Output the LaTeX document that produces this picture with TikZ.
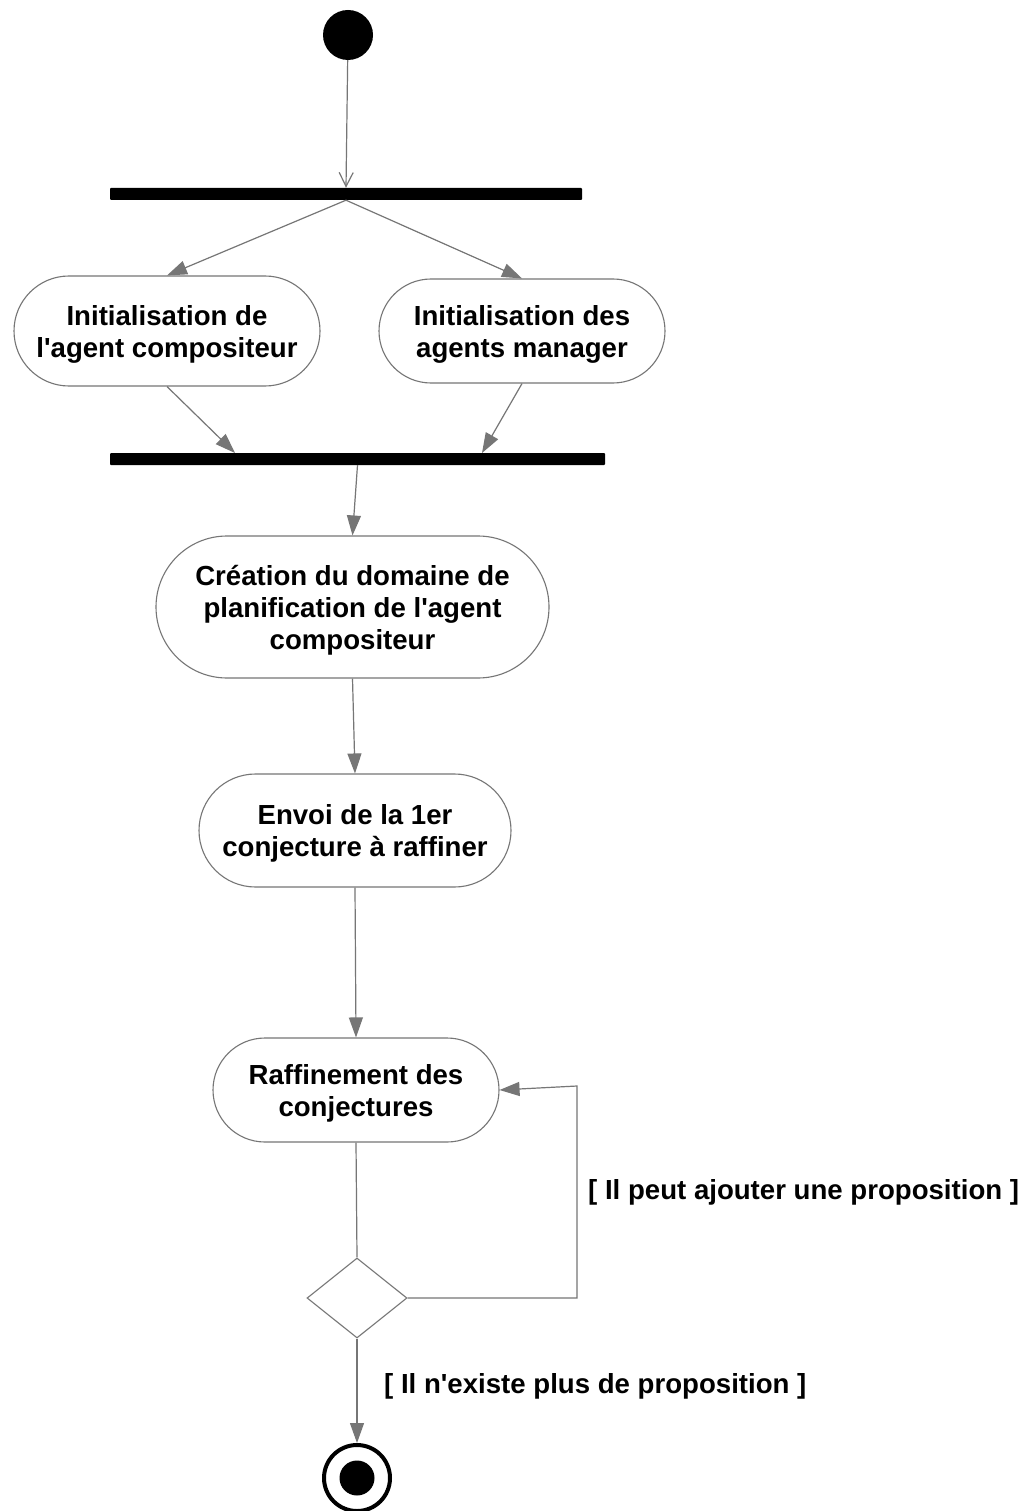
\documentclass[tikz,border=0pt]{standalone}
\usepackage{fontspec}
\setmainfont{Liberation Sans}
\usetikzlibrary{shapes.misc,shapes.geometric,arrows.meta,calc}
\definecolor{edge}{RGB}{118,118,118}
\newcommand{\apos}{\textquotesingle}
\begin{document}
\begin{tikzpicture}[x=1pt,y=-1pt,
  act/.style={rounded rectangle, draw=edge, line width=1.1pt, fill=white,
    align=center, inner sep=0pt, font=\fontsize{27.6}{32}\selectfont\bfseries,
    execute at begin node={\rule{0pt}{#1}}},
  act/.default=58pt,
  bar/.style={fill=black, inner sep=0pt, minimum height=12pt, rounded corners=1pt},
  flow/.style={draw=edge, line width=1.2pt, -{Triangle[length=20pt,width=14pt]}, color=edge},
  plain/.style={draw=edge, line width=1.2pt},
  guard/.style={font=\fontsize{27.6}{32}\selectfont\bfseries, anchor=west, inner sep=0pt},
  decision/.style={diamond, draw=edge, line width=1.1pt, inner sep=0pt,
    minimum width=100pt, minimum height=80pt, aspect=1.25}]
\useasboundingbox (0,0) rectangle (1027,1511);
\fill[white] (0,0) rectangle (1027,1511);

% initial state
\node[circle, fill=black, minimum size=50pt, inner sep=0pt] (start) at (348,35) {};

% fork
\node[bar, minimum width=472pt] (fork) at (346,194) {};
\draw[plain, -{Straight Barb[length=14pt,width=14pt,line width=1.2pt]}] (start) -- (fork.north);

% parallel initialisations
\node[act, minimum width=306pt, minimum height=110pt] (initc) at (167,331)
  {Initialisation de\\l\apos agent compositeur};
\node[act, minimum width=286pt, minimum height=104pt] (initm) at (522,331)
  {Initialisation des\\agents manager};
\draw[flow] (fork.south) -- (initc.north);
\draw[flow] (fork.south) -- (initm.north);

% join
\node[bar, minimum width=495pt] (join) at (357.5,459) {};
\coordinate (jc) at (235,453);
\coordinate (jm) at (482,453);
\draw[flow] (initc.south) -- (jc);
\draw[flow] (initm.south) -- (jm);

% sequential activities
\node[act=91pt, minimum width=393pt, minimum height=142pt] (domaine) at (352.5,607)
  {Création du domaine de\\planification de l\apos agent\\compositeur};
\node[act, minimum width=312pt, minimum height=113pt] (envoi) at (355,830.5)
  {Envoi de la 1er\\conjecture à raffiner};
\node[act, minimum width=286pt, minimum height=104pt] (raff) at (356,1090)
  {Raffinement des\\conjectures};
\draw[flow] (join.south) -- (domaine.north);
\draw[flow] (domaine.south) -- (envoi.north);
\draw[flow] (envoi.south) -- (raff.north);

% decision and loop back
\node[decision] (dec) at (357,1298) {};
\draw[plain] (raff.south) -- (dec.north);
\coordinate (loopc) at (577,1298);
\coordinate (loopt) at (577,1086);
\draw[flow] (dec.east) -- (loopc) -- (loopt) -- (raff.east);
\node[guard] (gloop) at (588,1192) {[ Il peut ajouter une proposition ]};

% final state
\node[circle, draw=black, line width=4pt, fill=white, minimum size=66pt, inner sep=0pt] (end) at (357,1478) {};
\node[circle, fill=black, minimum size=35pt, inner sep=0pt] (endin) at (end.center) {};
\draw[flow] (dec.south) -- (end.north);
\node[guard] (gend) at (384,1386) {[ Il n\apos existe plus de proposition ]};
\end{tikzpicture}
\end{document}
